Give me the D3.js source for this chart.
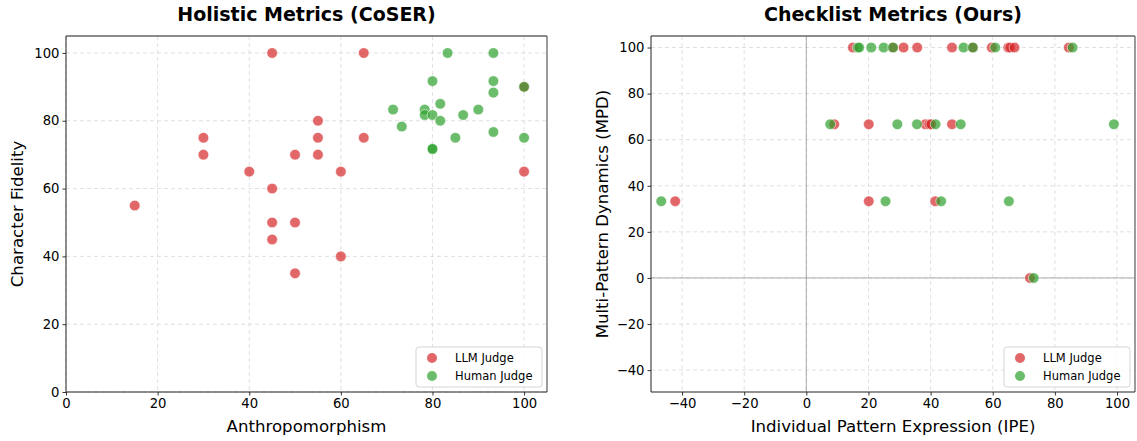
<!DOCTYPE html>
<html>
<head>
<meta charset="utf-8">
<script src="https://cdn.jsdelivr.net/npm/d3@7"></script>
<style>
  body { margin: 0; background: #fff; }
  svg { display: block; font-family: "DejaVu Sans", sans-serif; }
</style>
</head>
<body>
<div id="chart"></div>
<script>
// Holistic (CoSER): [Anthropomorphism, Character Fidelity]
const holisticLLM = [
    [15, 55], [30, 75], [30, 70], [40, 65], [45, 100], [45, 60], [45, 50], [45, 45],
    [50, 70], [50, 50], [50, 35], [55, 80], [55, 75], [55, 70], [60, 65], [60, 40],
    [65, 100], [65, 75], [100, 65], [100, 90]
];
const holisticHuman = [
    [71.4, 83.3], [73.3, 78.3], [78.3, 83.3], [78.3, 81.7], [80, 91.7], [80, 81.7],
    [80, 71.7], [80, 71.7], [81.7, 85], [81.7, 80], [83.3, 100], [85, 75], [86.7, 81.7],
    [90, 83.3], [93.3, 100], [93.3, 91.7], [93.3, 88.3], [93.3, 76.7], [100, 90], [100, 75]
];

// Checklist (Ours): [IPE, MPD]
const checklistLLM = [
    [15, 100], [27.9, 100], [31.3, 100], [35.7, 100], [46.9, 100], [53.6, 100],
    [59.7, 100], [65, 100], [65.6, 100], [67, 100], [84.5, 100],
    [9, 66.7], [20.1, 66.7], [38.3, 66.7], [39.6, 66.7], [40.2, 66.7], [46.9, 66.7],
    [-42.2, 33.3], [20.1, 33.3], [41.5, 33.3],
    [72, 0]
];
const checklistHuman = [
    [16.5, 100], [17, 100], [20.9, 100], [24.9, 100], [27.9, 100], [50.6, 100],
    [53.6, 100], [60.8, 100], [85.7, 100],
    [7.7, 66.7], [29.3, 66.7], [35.6, 66.7], [41.6, 66.7], [49.7, 66.7], [99, 66.7],
    [-46.7, 33.3], [25.5, 33.3], [43.4, 33.3], [65.2, 33.3],
    [73.2, 0]
];

const seriesNames = ["LLM Judge", "Human Judge"];
const seriesColors = ["#d62728", "#2ca02c"];

const width = 1137, height = 441;
const svg = d3.select("#chart").append("svg")
    .attr("width", width)
    .attr("height", height);

const minusFormat = (d) => d < 0 ? "\u2212" + Math.abs(d) : d;

function drawPanel(opts) {
    const { left, right, top, bottom, xDomain, yDomain, xTicks, yTicks,
        title, xLabel, yLabel, llm, human, zeroLines } = opts;

    const x = d3.scaleLinear().domain(xDomain).range([left, right]);
    const y = d3.scaleLinear().domain(yDomain).range([bottom, top]);
    const g = svg.append("g");

    // grid
    g.append("g").selectAll("line").data(xTicks).join("line")
        .attr("x1", (d) => x(d)).attr("x2", (d) => x(d))
        .attr("y1", top).attr("y2", bottom)
        .attr("stroke", "#dcdcdc").attr("stroke-dasharray", "4,3").attr("stroke-width", 0.9);
    g.append("g").selectAll("line").data(yTicks).join("line")
        .attr("y1", (d) => y(d)).attr("y2", (d) => y(d))
        .attr("x1", left).attr("x2", right)
        .attr("stroke", "#dcdcdc").attr("stroke-dasharray", "4,3").attr("stroke-width", 0.9);

    if (zeroLines) {
        g.append("line")
            .attr("x1", left).attr("x2", right).attr("y1", y(0)).attr("y2", y(0))
            .attr("stroke", "#999").attr("stroke-opacity", 0.8).attr("stroke-width", 1);
        g.append("line")
            .attr("x1", x(0)).attr("x2", x(0)).attr("y1", top).attr("y2", bottom)
            .attr("stroke", "#999").attr("stroke-opacity", 0.8).attr("stroke-width", 1);
    }

    // points
    [llm, human].forEach((pts, i) => {
        g.append("g").selectAll("circle").data(pts).join("circle")
            .attr("cx", (d) => x(d[0]))
            .attr("cy", (d) => y(d[1]))
            .attr("r", 5.3)
            .attr("fill", seriesColors[i])
            .attr("fill-opacity", 0.7)
            .attr("stroke", "#fff")
            .attr("stroke-opacity", 0.7)
            .attr("stroke-width", 0.8);
    });

    // axes
    const xAxis = g.append("g")
        .attr("transform", `translate(0, ${bottom})`)
        .call(d3.axisBottom(x).tickValues(xTicks).tickSize(3.5).tickPadding(3).tickFormat(minusFormat));
    const yAxis = g.append("g")
        .attr("transform", `translate(${left}, 0)`)
        .call(d3.axisLeft(y).tickValues(yTicks).tickSize(3.5).tickPadding(3).tickFormat(minusFormat));
    [xAxis, yAxis].forEach((a) => {
        a.select(".domain").remove();
        a.selectAll("text").attr("font-size", 13.2).attr("fill", "#000")
            .attr("font-family", "DejaVu Sans, sans-serif");
        a.selectAll(".tick line").attr("stroke", "#000").attr("stroke-width", 0.8);
    });

    // frame
    g.append("line").attr("x1", left).attr("x2", right).attr("y1", top).attr("y2", top)
        .attr("stroke", "#666").attr("stroke-width", 1.3);
    g.append("line").attr("x1", right).attr("x2", right).attr("y1", top).attr("y2", bottom)
        .attr("stroke", "#666").attr("stroke-width", 1.3);
    g.append("line").attr("x1", left).attr("x2", left).attr("y1", top).attr("y2", bottom)
        .attr("stroke", "#222").attr("stroke-width", 1);
    g.append("line").attr("x1", left).attr("x2", right).attr("y1", bottom).attr("y2", bottom)
        .attr("stroke", "#222").attr("stroke-width", 1);

    // labels
    g.append("text")
        .attr("x", (left + right) / 2).attr("y", 21)
        .attr("text-anchor", "middle")
        .attr("font-size", 19).attr("font-weight", "bold")
        .text(title);
    g.append("text")
        .attr("x", (left + right) / 2).attr("y", 432)
        .attr("text-anchor", "middle")
        .attr("font-size", 16.6)
        .text(xLabel);
    g.append("text")
        .attr("transform", `translate(${left - 43}, ${(top + bottom) / 2}) rotate(-90)`)
        .attr("text-anchor", "middle")
        .attr("font-size", 16.6)
        .text(yLabel);

    // legend
    const lg = g.append("g").attr("transform", `translate(${right - 131}, ${bottom - 45})`);
    lg.append("rect")
        .attr("width", 126).attr("height", 40).attr("rx", 3)
        .attr("fill", "#fff").attr("fill-opacity", 0.8)
        .attr("stroke", "#d0d0d0").attr("stroke-width", 0.9);
    seriesNames.forEach((name, i) => {
        lg.append("circle")
            .attr("cx", 16).attr("cy", 11 + i * 18).attr("r", 5)
            .attr("fill", seriesColors[i]).attr("fill-opacity", 0.7);
        lg.append("text")
            .attr("x", 39).attr("y", 11 + i * 18)
            .attr("dominant-baseline", "central")
            .attr("font-size", 11.5)
            .text(name);
    });
}

drawPanel({
    left: 66, right: 547, top: 36, bottom: 392,
    xDomain: [0, 105], yDomain: [0, 105],
    xTicks: [0, 20, 40, 60, 80, 100], yTicks: [0, 20, 40, 60, 80, 100],
    title: "Holistic Metrics (CoSER)",
    xLabel: "Anthropomorphism",
    yLabel: "Character Fidelity",
    llm: holisticLLM, human: holisticHuman, zeroLines: false
});

drawPanel({
    left: 651, right: 1135, top: 36, bottom: 392,
    xDomain: [-50, 105.8], yDomain: [-49.5, 105],
    xTicks: [-40, -20, 0, 20, 40, 60, 80, 100], yTicks: [-40, -20, 0, 20, 40, 60, 80, 100],
    title: "Checklist Metrics (Ours)",
    xLabel: "Individual Pattern Expression (IPE)",
    yLabel: "Multi-Pattern Dynamics (MPD)",
    llm: checklistLLM, human: checklistHuman, zeroLines: true
});
</script>
</body>
</html>
